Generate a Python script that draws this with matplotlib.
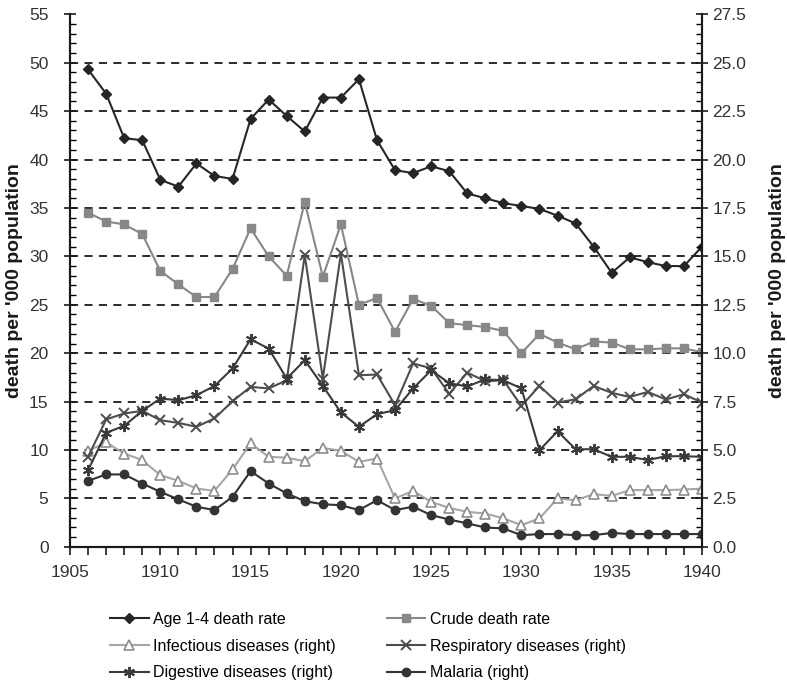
import numpy as np
import matplotlib
matplotlib.use("Agg")
import matplotlib.pyplot as plt
from matplotlib.ticker import MultipleLocator

plt.rcParams['font.family'] = ['Liberation Sans', 'DejaVu Sans']

years = list(range(1906, 1941))

# left axis
age_1_4 = [49.3, 46.8, 42.2, 42.0, 37.9, 37.2, 39.6, 38.3, 38.0, 44.2,
           46.2, 44.5, 42.9, 46.4, 46.4, 48.3, 42.0, 38.9, 38.6, 39.3,
           38.8, 36.5, 36.0, 35.5, 35.2, 34.9, 34.2, 33.4, 31.0, 28.3,
           29.9, 29.4, 29.0, 29.0, 31.0]
crude = [34.5, 33.6, 33.3, 32.3, 28.5, 27.1, 25.8, 25.8, 28.7, 32.9,
         30.0, 28.0, 35.6, 27.9, 33.3, 25.0, 25.7, 22.2, 25.6, 24.9,
         23.1, 22.9, 22.7, 22.3, 20.0, 22.0, 21.1, 20.4, 21.2, 21.1,
         20.4, 20.4, 20.5, 20.5, 20.1]

# right axis
infectious = [4.96, 5.39, 4.82, 4.48, 3.70, 3.41, 3.01, 2.89, 4.00, 5.34,
              4.65, 4.60, 4.42, 5.11, 4.96, 4.39, 4.56, 2.50, 2.89, 2.32,
              2.01, 1.81, 1.72, 1.47, 1.12, 1.47, 2.50, 2.41, 2.72, 2.63,
              2.93, 2.93, 2.93, 2.96, 3.01]
respiratory = [4.65, 6.58, 6.89, 7.02, 6.54, 6.40, 6.20, 6.63, 7.52, 8.26,
               8.18, 8.60, 15.06, 8.69, 15.15, 8.86, 8.90, 7.32, 9.47, 9.22,
               7.90, 9.00, 8.55, 8.60, 7.28, 8.31, 7.45, 7.62, 8.31, 7.95,
               7.74, 8.00, 7.61, 7.88, 7.45]
digestive = [3.96, 5.89, 6.25, 7.02, 7.66, 7.57, 7.83, 8.31, 9.21, 10.72,
             10.24, 8.69, 9.64, 8.31, 6.94, 6.20, 6.85, 7.06, 8.18, 9.12,
             8.45, 8.28, 8.65, 8.60, 8.18, 4.99, 5.97, 5.04, 5.04, 4.65,
             4.65, 4.48, 4.68, 4.68, 4.65]
malaria = [3.41, 3.74, 3.74, 3.27, 2.84, 2.45, 2.07, 1.90, 2.58, 3.91,
           3.27, 2.76, 2.36, 2.20, 2.15, 1.90, 2.41, 1.90, 2.07, 1.64,
           1.41, 1.21, 1.00, 0.95, 0.60, 0.66, 0.66, 0.60, 0.60, 0.72,
           0.66, 0.66, 0.66, 0.66, 0.66]

fig = plt.figure(figsize=(7.87, 6.81), dpi=100)
ax = fig.add_axes([0.089, 0.197, 0.803, 0.782])
ax2 = ax.twinx()

# dashed gridlines
for v in range(5, 55, 5):
    ax.axhline(v, color='#1a1a1a', linestyle=(0, (4.5, 3.5)), linewidth=1.3, zorder=0)

l1, = ax.plot(years, age_1_4, color='#262626', lw=1.5, marker='D', ms=5.5,
              label='Age 1-4 death rate')
l2, = ax.plot(years, crude, color='#888888', lw=1.5, marker='s', ms=5.5,
              label='Crude death rate')
l3, = ax2.plot(years, infectious, color='#a6a6a6', lw=1.5, marker='^', ms=6.5,
               mfc='white', mec='#8c8c8c', mew=1.2, label='Infectious diseases (right)')
l4, = ax2.plot(years, respiratory, color='#4d4d4d', lw=1.5, marker='x', ms=7,
               mew=1.4, label='Respiratory diseases (right)')
l5, = ax2.plot(years, digestive, color='#3a3a3a', lw=1.5, marker=(6, 2, 0), ms=8,
               mew=1.4, label='Digestive diseases (right)')
l6, = ax2.plot(years, malaria, color='#333333', lw=1.5, marker='o', ms=6,
               label='Malaria (right)')

ax.set_xlim(1905, 1940)
ax.set_ylim(0, 55)
ax2.set_ylim(0, 27.5)

ax.xaxis.set_major_locator(MultipleLocator(5))
ax.xaxis.set_minor_locator(MultipleLocator(1))
ax.yaxis.set_major_locator(MultipleLocator(5))
ax.yaxis.set_minor_locator(MultipleLocator(1))
ax2.yaxis.set_major_locator(MultipleLocator(2.5))
ax2.yaxis.set_minor_locator(MultipleLocator(0.5))
ax2.yaxis.set_major_formatter(matplotlib.ticker.FormatStrFormatter('%.1f'))

for a in (ax, ax2):
    a.spines['top'].set_visible(False)
    for s in a.spines.values():
        s.set_linewidth(1.5)
        s.set_color('#1a1a1a')

ax.tick_params(axis='x', which='both', direction='out', length=6, width=1.2,
               labelsize=12.5, pad=7, colors='#1a1a1a', labelcolor='#333333')
ax.tick_params(axis='y', which='major', direction='inout', length=9, width=1.2,
               labelsize=12.5, pad=11, colors='#1a1a1a', labelcolor='#333333')
ax.tick_params(axis='y', which='minor', direction='in', length=4, width=1.0)
ax2.tick_params(axis='y', which='major', direction='inout', length=9, width=1.2,
                labelsize=12.5, pad=3, colors='#1a1a1a', labelcolor='#333333')
ax2.tick_params(axis='y', which='minor', direction='in', length=4, width=1.0)

ax.set_ylabel("death per '000 population", fontsize=14, fontweight='bold',
              color='#1a1a1a', labelpad=4)
ax2.set_ylabel("death per '000 population", fontsize=14, fontweight='bold',
               color='#1a1a1a', labelpad=16)

fig.legend(handles=[l1, l3, l5, l2, l4, l6], ncol=2, frameon=False,
           loc='upper left', bbox_to_anchor=(0.14, 0.102), fontsize=11.5,
           handlelength=2.4, handletextpad=0.3, columnspacing=3.2,
           labelspacing=0.75, borderaxespad=0, borderpad=0)

fig.savefig('out.png', dpi=100)
